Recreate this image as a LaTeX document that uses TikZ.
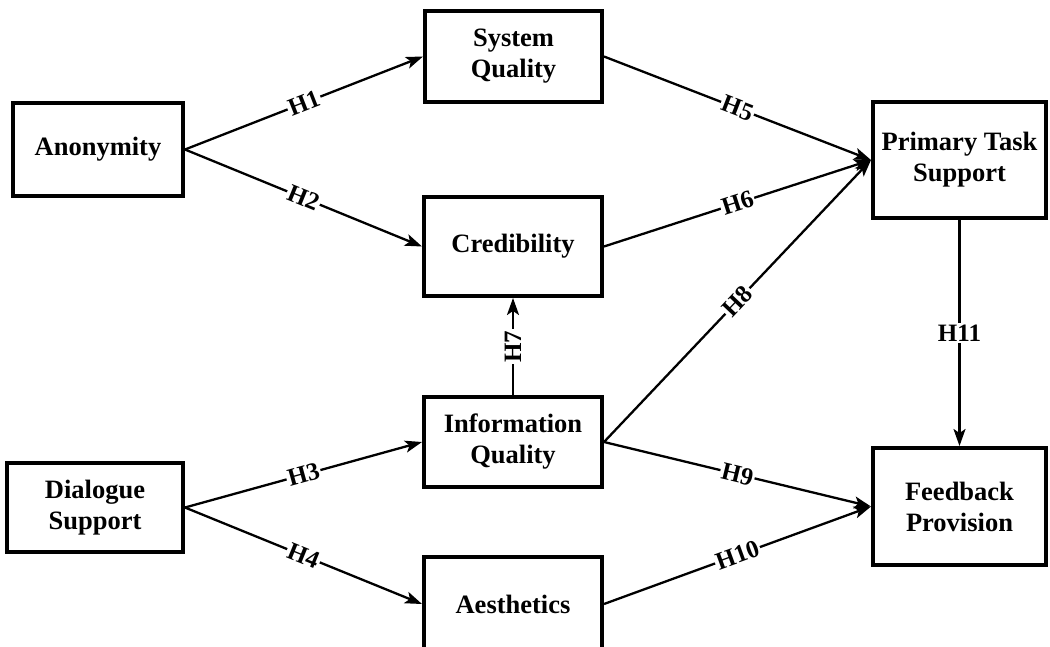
\documentclass[tikz,border=0pt]{standalone}
\usepackage{fontspec}
\setmainfont{Liberation Serif}
\usetikzlibrary{arrows.meta}
\begin{document}
\begin{tikzpicture}[x=1pt,y=-1pt,
 box/.style={draw, line width=4pt, align=center, font=\fontsize{26.5}{31}\selectfont\bfseries, inner sep=0pt},
 arr/.style={line width=2.3pt, -{Stealth[length=17pt,width=12pt,inset=4pt]}},
 lab/.style={fill=white, inner sep=1.5pt, font=\fontsize{25}{30}\selectfont\bfseries}]
\clip (0,0) rectangle (1050,646);
\fill[white] (0,0) rectangle (1050,646);
\node[box, minimum width=170pt, minimum height=93pt] (anon) at (98,149.5) {Anonymity};
\node[box, minimum width=176pt, minimum height=89pt] (dial) at (95,507.5) {Dialogue\\Support};
\node[box, minimum width=177pt, minimum height=91pt] (sysq) at (513.5,56.5) {System\\Quality};
\node[box, minimum width=178pt, minimum height=99pt] (cred) at (513,246.5) {Credibility};
\node[box, minimum width=178pt, minimum height=90pt] (infoq) at (513,442) {Information\\Quality};
\node[box, minimum width=178pt, minimum height=94pt] (aest) at (513,604) {Aesthetics};
\node[box, minimum width=173pt, minimum height=116pt] (pts) at (959.5,160) {Primary Task\\Support};
\node[box, minimum width=173pt, minimum height=117pt] (fb) at (959.5,506.5) {Feedback\\Provision};
\draw[arr] (anon.east) -- node[lab, sloped] {H1} (sysq.west);
\draw[arr] (anon.east) -- node[lab, sloped] {H2} (cred.west);
\draw[arr] (dial.east) -- node[lab, sloped] {H3} (infoq.west);
\draw[arr] (dial.east) -- node[lab, sloped] {H4} (aest.west);
\draw[arr] (sysq.east) -- node[lab, sloped] {H5} (pts.west);
\draw[arr] (cred.east) -- node[lab, sloped] {H6} (pts.west);
\draw[arr] (infoq.north) -- node[lab, sloped] {H7} (cred.south);
\draw[arr] (infoq.east) -- node[lab, sloped] {H8} (pts.west);
\draw[arr] (infoq.east) -- node[lab, sloped] {H9} (fb.west);
\draw[arr] (aest.east) -- node[lab, sloped] {H10} (fb.west);
\draw[arr] (pts.south) -- node[lab] {H11} (fb.north);
\end{tikzpicture}
\end{document}
